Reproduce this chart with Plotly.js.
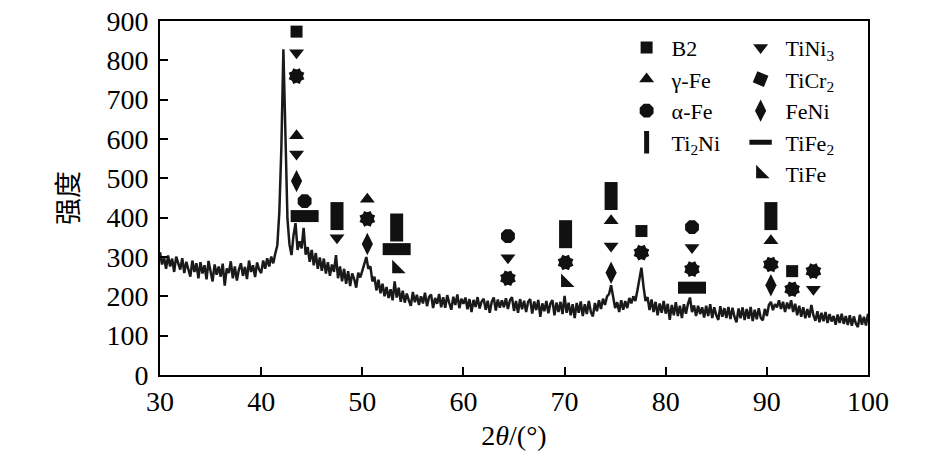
<!DOCTYPE html>
<html>
<head>
<meta charset="utf-8">
<script src="https://cdn.plot.ly/plotly-3.0.1.min.js"></script>
<style>html,body{margin:0;padding:0;background:#fff;}#chart{width:945px;height:463px;}</style>
</head>
<body>
<div id="chart"></div>
<script>
// XRD pattern: intensity sampled every 0.2 deg from 30.0 to 100.0
var twoThetaStart = 30.0;
var twoThetaStep = 0.2;
var intensity = [
312,281,299,270,304,276,296,262,301,283,
268,297,259,288,272,250,291,262,284,246,
287,258,279,243,290,264,238,281,255,276,
250,283,227,271,259,289,246,276,240,268,
284,252,275,244,291,262,279,249,286,268,
259,291,270,297,276,301,284,309,330,415,
578,828,612,398,332,305,355,386,318,340,
322,374,306,325,288,318,279,310,270,299,
265,296,258,287,252,281,262,305,246,276,
238,270,232,264,226,258,244,222,260,248,
265,282,300,270,276,238,250,215,242,208,
232,200,224,196,218,190,238,197,222,186,
214,184,207,190,176,211,185,204,178,200,
182,209,175,198,205,170,196,181,206,172,
198,171,203,183,166,199,178,205,170,194,
181,197,167,193,160,191,173,198,169,187,
194,166,189,158,186,197,164,192,171,190,
172,195,168,190,198,163,188,158,193,167,
189,160,186,193,156,187,165,191,148,182,
162,188,157,182,190,152,184,160,186,155,
201,158,184,152,180,145,183,158,187,150,
180,155,188,160,149,183,162,190,168,194,
178,200,206,228,196,170,185,160,190,166,
188,170,196,182,200,188,215,248,273,226,
188,198,165,192,160,186,152,182,158,188,
156,181,140,178,152,185,150,176,145,180,
156,181,197,160,177,150,176,155,172,146,
176,150,180,145,172,152,140,175,148,170,
145,173,142,171,148,134,169,144,172,140,
168,143,173,137,166,142,170,145,139,168,
150,178,186,165,180,172,190,168,186,160,
184,168,190,160,181,152,176,148,172,144,
168,146,178,152,138,162,134,158,137,160,
132,155,136,150,128,154,132,156,130,150,
127,152,125,149,131,122,153,128,148,126,
156
];

// Phase markers (2theta, marker height)
var b2X = [43.5, 77.6, 92.5];
var b2Y = [873, 366, 264];
var tini3X = [43.5, 43.5, 47.5, 64.4, 74.6, 82.6, 94.6];
var tini3Y = [819, 562, 349, 298, 328, 324, 218];
var gammaFeX = [43.5, 50.5, 74.6, 90.4];
var gammaFeY = [608, 447, 392, 341];
var alphaFeX = [44.3, 64.4, 82.6];
var alphaFeY = [442, 353, 376];
var ti2niX = [47.5, 53.4, 70.1, 74.6, 90.4];
var ti2niY = [404, 375, 358, 455, 404];
var ticr2X = [43.5, 50.5, 64.4, 70.1, 77.6, 82.6, 90.4, 92.5, 94.6];
var ticr2Y = [760, 397, 246, 286, 311, 269, 281, 218, 264];
var feniX = [43.5, 50.5, 74.6, 90.4];
var feniY = [493, 333, 260, 228];
var tife2X = [44.3, 53.4, 82.6];
var tife2Y = [404, 320, 222];
var tifeX = [53.4, 70.1];
var tifeY = [270, 235];

var xTickVals = [30, 40, 50, 60, 70, 80, 90, 100];
var yTickVals = [0, 100, 200, 300, 400, 500, 600, 700, 800, 900];

var INK = '#111';
function mk(x, y, name, symbol, size, legend, extra) {
  var m = {symbol: symbol, size: size, color: INK, line: {width: 0, color: INK}};
  if (extra) for (var k in extra) m[k] = extra[k];
  return {type: 'scatter', mode: 'markers', x: x, y: y, name: name,
          legend: legend, marker: m, hoverinfo: 'skip', cliponaxis: false};
}

var traces = [
  {type: 'scatter', mode: 'lines', x0: twoThetaStart, dx: twoThetaStep, y: intensity,
   line: {color: '#1a1a1a', width: 2.5}, showlegend: false, hoverinfo: 'skip'},
  mk(b2X, b2Y, 'B2', 'square', 12, 'legend'),
  mk(gammaFeX, gammaFeY, 'γ-Fe', 'triangle-up', 13, 'legend'),
  mk(alphaFeX, alphaFeY, 'α-Fe', 'octagon', 15, 'legend'),
  mk(ti2niX, ti2niY, 'Ti<sub>2</sub>Ni', 'line-ns', 20, 'legend', {line: {width: 13, color: INK}}),
  mk(tini3X, tini3Y, 'TiNi<sub>3</sub>', 'triangle-down', 13, 'legend2'),
  mk(ticr2X, ticr2Y, 'TiCr<sub>2</sub>', 'square', 12, 'legend2', {angle: 22.5}),
  mk(feniX, feniY, 'FeNi', 'diamond-tall', 16, 'legend2'),
  mk(tife2X, tife2Y, 'TiFe<sub>2</sub>', 'line-ew', 20, 'legend2', {line: {width: 12, color: INK}}),
  mk(tifeX, tifeY, 'TiFe', 'triangle-sw', 15, 'legend2')
];
var ticr2b = mk(ticr2X, ticr2Y, 'TiCr2b', 'square', 12, 'legend2', {angle: 67.5});
ticr2b.showlegend = false;
traces.push(ticr2b);

var serif = 'Liberation Serif';
var legendCommon = {
  orientation: 'v', bgcolor: 'rgba(0,0,0,0)', borderwidth: 0,
  font: {family: serif, size: 22, color: '#000'},
  xanchor: 'left', yanchor: 'top', tracegroupgap: 0, itemsizing: 'trace', itemwidth: 40
};
var leg1 = Object.assign({}, legendCommon, {x: 0.652, y: 0.984});
var leg2 = Object.assign({}, legendCommon, {x: 0.813, y: 0.984});

var layout = {
  width: 945, height: 463,
  margin: {l: 160, r: 77, t: 21, b: 88},
  paper_bgcolor: '#fff', plot_bgcolor: '#fff',
  font: {family: serif, color: '#000'},
  showlegend: true,
  legend: leg1,
  legend2: leg2,
  xaxis: {
    range: [30, 100], tickvals: xTickVals, ticks: 'inside', ticklen: 8, tickwidth: 2,
    tickcolor: '#000', showline: true, linecolor: '#000', linewidth: 2, mirror: true,
    showgrid: false, zeroline: false, tickfont: {family: serif, size: 28, color: '#000'},
    ticklabelstandoff: 0,
    title: {text: '2<i>θ</i>/(°)', font: {family: serif, size: 28, color: '#000'}, standoff: 10}
  },
  yaxis: {
    range: [0, 900], tickvals: yTickVals, ticks: 'inside', ticklen: 8, tickwidth: 2,
    tickcolor: '#000', showline: true, linecolor: '#000', linewidth: 2, mirror: true,
    showgrid: false, zeroline: false, tickfont: {family: serif, size: 28, color: '#000'},
    ticklabelstandoff: 4,
    title: {text: '强度', font: {family: 'Noto Sans CJK SC', size: 27, color: '#000'}, standoff: 20}
  }
};

Plotly.newPlot('chart', traces, layout, {staticPlot: true, displayModeBar: false});
</script>
</body>
</html>
